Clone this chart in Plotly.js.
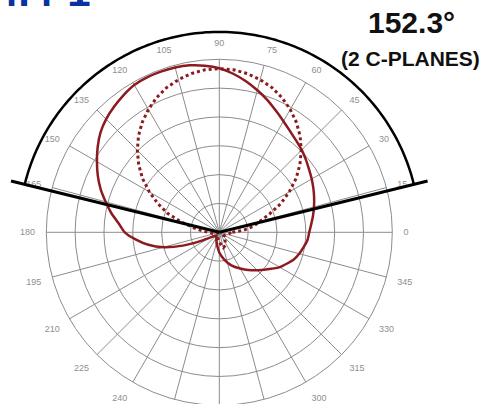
<!DOCTYPE html>
<html>
<head>
<meta charset="utf-8">
<script src="https://cdn.plot.ly/plotly-3.0.1.min.js"></script>
<style>
  html, body { margin: 0; padding: 0; overflow: hidden; background: #fff; width: 482px; height: 404px; }
  #chart { position: absolute; left: 0; top: -40px; width: 482px; height: 500px; }
</style>
</head>
<body>
<div id="chart"></div>
<script>
// ---- data ----
const productCode = "4.4-1";
const beamAngle = 152.3;
const beamLabel = "(2 C-PLANES)";

const solidTheta = [0,5,10,15,20,25,30,35,40,45,50,55,60,65,70,75,80,85,90,95,100,105,110,115,120,125,130,135,140,145,150,155,160,165,170,175,180,185,190,195,200,205,210,220,230,240,250,260,270,280,290,300,310,320,330,340,345,350,355,360];
const solidR     = [3.12,3.2,3.3,3.4,3.5,3.6,3.7,3.8,3.92,4.04,4.15,4.28,4.45,4.65,4.88,5.1,5.32,5.52,5.69,5.8,5.88,5.92,5.93,5.93,5.9,5.8,5.68,5.55,5.38,5.15,4.9,4.65,4.38,4.08,3.8,3.5,3.28,2.9,2.5,2.0,1.35,0.7,0.35,0.2,0.15,0.2,0.3,0.45,0.7,0.95,1.22,1.45,1.72,2.02,2.42,2.75,2.87,2.97,3.07,3.12];

const dottedTheta = [0,5,10,15,20,25,30,35,40,45,50,55,60,65,70,75,80,85,90,95,100,105,110,115,120,125,130,135,140,145,150,155,160,165,170,175,180,190,210,240,255,270,285,295,305,320,340,360];
const dottedR     = [0.45,0.85,1.2,1.45,1.85,2.35,2.8,3.25,3.65,4.02,4.36,4.66,4.92,5.15,5.34,5.48,5.59,5.66,5.68,5.66,5.59,5.48,5.34,5.15,4.92,4.66,4.36,4.02,3.65,3.25,2.8,2.35,1.9,1.35,0.9,0.6,0.4,0.2,0.05,0.1,0.2,0.35,0.55,0.5,0.35,0.2,0.25,0.45];

const angleTicks = [];
const angleLabels = [];
for (let a = 0; a < 360; a += 15) { angleTicks.push(a); angleLabels.push(String(a)); }

// ---- geometry (pixels in the 482x500 svg) ----
const W = 482, H = 500;
const cx = 219.3, cy = 272.3;      // polar centre
const R1 = 173;                    // grid outer radius
const rings = 6;
const unit = R1 / rings;
const R2units = 7.5;
const R2 = R2units * unit;
const arcR = 6.95, lineR = 7.44;

function dom(R) {
  return {
    x: [(cx - R) / W, (cx + R) / W],
    y: [1 - (cy + R) / H, 1 - (cy - R) / H]
  };
}

// beam edges from beam angle
const half = beamAngle / 2;
const e1 = 90 - half, e2 = 90 + half;
const arcTheta = [], arcR_ = [];
for (let t = e1; t <= e2 + 1e-9; t += 1) { arcTheta.push(t); arcR_.push(arcR); }
if (arcTheta[arcTheta.length - 1] < e2) { arcTheta.push(e2); arcR_.push(arcR); }

const red = 'rgb(140,26,30)';
const grid = 'rgb(140,140,140)';
const fam = 'Liberation Sans, Arial, sans-serif';

const traces = [
  { type: 'scatterpolar', subplot: 'polar', mode: 'lines', theta: dottedTheta, r: dottedR,
    line: { color: red, width: 3, dash: 'dot' }, hoverinfo: 'skip' },
  { type: 'scatterpolar', subplot: 'polar', mode: 'lines', theta: solidTheta, r: solidR,
    line: { color: red, width: 2.5, shape: 'spline', smoothing: 0.6 }, hoverinfo: 'skip' },
  { type: 'scatterpolar', subplot: 'polar2', mode: 'lines', theta: [e1, e1], r: [0, lineR],
    line: { color: '#000', width: 3 }, hoverinfo: 'skip' },
  { type: 'scatterpolar', subplot: 'polar2', mode: 'lines', theta: [e2, e2], r: [0, lineR],
    line: { color: '#000', width: 3 }, hoverinfo: 'skip' },
  { type: 'scatterpolar', subplot: 'polar2', mode: 'lines', theta: arcTheta, r: arcR_,
    line: { color: '#000', width: 2.5 }, hoverinfo: 'skip' }
];

const layout = {
  width: W, height: H,
  margin: { l: 0, r: 0, t: 0, b: 0 },
  paper_bgcolor: '#fff',
  showlegend: false,
  font: { family: fam },
  polar: {
    domain: dom(R1),
    bgcolor: '#fff',
    angularaxis: {
      rotation: 0, direction: 'counterclockwise',
      tickmode: 'array', tickvals: angleTicks, ticktext: angleLabels,
      ticks: 'outside', ticklen: 9, tickcolor: 'rgba(0,0,0,0)', tickwidth: 1,
      showline: true, linecolor: grid, linewidth: 1,
      showgrid: true, gridcolor: grid, gridwidth: 1,
      tickfont: { size: 9, color: '#8f8f8f', family: fam }
    },
    radialaxis: {
      range: [0, rings], dtick: 1, tick0: 0,
      showticklabels: false, ticks: '', showline: false,
      showgrid: true, gridcolor: grid, gridwidth: 1
    }
  },
  polar2: {
    domain: dom(R2),
    bgcolor: 'rgba(0,0,0,0)',
    angularaxis: { rotation: 0, direction: 'counterclockwise', visible: false, showgrid: false, showline: false },
    radialaxis: { range: [0, R2units], visible: false, showgrid: false, showline: false }
  },
  annotations: [
    { text: productCode, xref: 'paper', yref: 'paper', x: -7 / W, y: 1 - 57 / H,
      xanchor: 'left', yanchor: 'bottom', showarrow: false,
      font: { size: 42, color: 'rgb(10,50,160)', weight: 'bold', family: fam } },
    { text: beamAngle.toFixed(1) + '°', xref: 'paper', yref: 'paper', x: 411 / W, y: 1 - 62 / H,
      xanchor: 'center', yanchor: 'middle', showarrow: false,
      font: { size: 30, color: '#111', weight: 'bold', family: fam } },
    { text: beamLabel, xref: 'paper', yref: 'paper', x: 410 / W, y: 1 - 99 / H,
      xanchor: 'center', yanchor: 'middle', showarrow: false,
      font: { size: 21, color: '#111', weight: 'bold', family: fam } }
  ]
};

Plotly.newPlot('chart', traces, layout, { displayModeBar: false, staticPlot: true });
</script>
</body>
</html>
